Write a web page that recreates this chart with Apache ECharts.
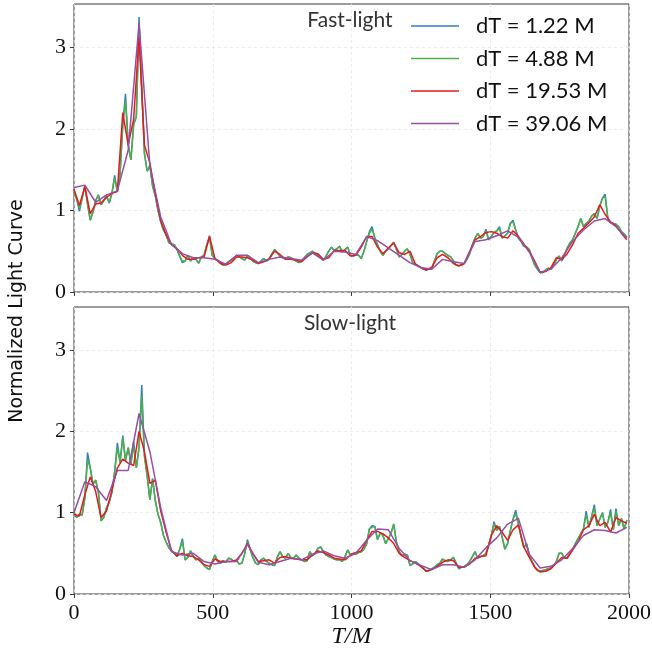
<!DOCTYPE html>
<html>
<head>
<meta charset="utf-8">
<script src="https://cdn.jsdelivr.net/npm/echarts@6/dist/echarts.min.js"></script>
<style>
  html, body { margin: 0; padding: 0; background: #fff; }
  #chart { width: 652px; height: 651px; }
</style>
</head>
<body>
<div id="chart"></div>
<script>
// Axis settings
const xTicks = [0, 500, 1000, 1500, 2000];
const yTicks = [0, 1, 2, 3];
const seriesNames = ['dT = 1.22 M', 'dT = 4.88 M', 'dT = 19.53 M', 'dT = 39.06 M'];
const seriesColors = ['#377eb8', '#4daf4a', '#e41a1c', '#984ea3'];

// Sampling steps (in M) of the stored light-curve arrays
const fineStep = 9.765625;
const midStep = 19.53125;
const coarseStep = 39.0625;

// ---- Fast-light light curves ----
const fastBlue = [
  1.22,1.14,0.99,1.15,1.30,1.08,0.88,0.98,1.12,1.19,
  1.07,1.12,1.18,1.09,1.21,1.43,1.23,1.45,2.05,2.43,
  1.80,1.62,2.05,2.15,3.37,2.50,1.70,1.48,1.55,1.30,
  1.18,1.00,0.86,0.76,0.70,0.61,0.59,0.58,0.52,0.44,
  0.36,0.38,0.45,0.38,0.42,0.40,0.35,0.43,0.45,0.58,
  0.69,0.45,0.41,0.39,0.36,0.33,0.34,0.37,0.39,0.42,
  0.45,0.43,0.41,0.39,0.45,0.42,0.38,0.36,0.35,0.38,
  0.41,0.38,0.40,0.46,0.52,0.48,0.44,0.42,0.41,0.43,
  0.42,0.40,0.38,0.36,0.38,0.42,0.46,0.48,0.50,0.47,
  0.45,0.42,0.39,0.44,0.50,0.55,0.51,0.53,0.56,0.49,
  0.52,0.55,0.45,0.44,0.46,0.45,0.41,0.50,0.62,0.74,
  0.80,0.66,0.58,0.50,0.45,0.50,0.53,0.57,0.61,0.52,
  0.43,0.46,0.50,0.53,0.46,0.36,0.34,0.32,0.30,0.28,
  0.27,0.28,0.29,0.38,0.47,0.50,0.50,0.47,0.45,0.43,
  0.38,0.33,0.32,0.33,0.35,0.40,0.47,0.58,0.66,0.72,
  0.66,0.68,0.77,0.64,0.68,0.73,0.75,0.80,0.66,0.69,
  0.72,0.84,0.88,0.76,0.66,0.62,0.56,0.55,0.52,0.42,
  0.33,0.28,0.24,0.24,0.27,0.29,0.28,0.33,0.40,0.44,
  0.38,0.45,0.54,0.60,0.64,0.72,0.80,0.90,0.80,0.84,
  0.87,0.93,0.96,0.90,1.05,1.15,1.20,0.90,0.85,0.84,
  0.83,0.80,0.74,0.71,0.67
];
const fastGreen = [
  1.22,1.14,1.03,1.15,1.30,1.08,0.88,0.98,1.12,1.19,
  1.07,1.12,1.18,1.09,1.21,1.40,1.23,1.45,2.05,2.35,
  1.80,1.62,2.05,2.15,3.28,2.50,1.70,1.48,1.55,1.30,
  1.18,1.00,0.86,0.76,0.70,0.60,0.59,0.58,0.52,0.44,
  0.38,0.38,0.45,0.38,0.42,0.40,0.36,0.43,0.45,0.58,
  0.66,0.45,0.41,0.39,0.36,0.33,0.34,0.37,0.39,0.42,
  0.45,0.43,0.41,0.39,0.45,0.42,0.38,0.36,0.35,0.38,
  0.41,0.38,0.40,0.46,0.52,0.48,0.44,0.42,0.41,0.43,
  0.42,0.40,0.38,0.36,0.38,0.42,0.46,0.48,0.50,0.47,
  0.45,0.42,0.39,0.44,0.50,0.55,0.51,0.53,0.56,0.49,
  0.52,0.55,0.45,0.44,0.46,0.45,0.41,0.50,0.62,0.72,
  0.77,0.66,0.58,0.50,0.45,0.50,0.53,0.57,0.61,0.52,
  0.43,0.46,0.50,0.53,0.46,0.36,0.34,0.32,0.30,0.28,
  0.27,0.28,0.29,0.38,0.47,0.50,0.50,0.47,0.45,0.43,
  0.38,0.33,0.32,0.33,0.35,0.40,0.47,0.58,0.66,0.72,
  0.66,0.68,0.75,0.64,0.68,0.73,0.75,0.78,0.66,0.69,
  0.72,0.84,0.86,0.76,0.66,0.62,0.56,0.55,0.52,0.42,
  0.33,0.28,0.24,0.24,0.27,0.29,0.28,0.33,0.40,0.44,
  0.38,0.45,0.54,0.60,0.64,0.72,0.80,0.90,0.80,0.84,
  0.87,0.93,0.96,0.90,1.05,1.15,1.17,0.90,0.85,0.84,
  0.83,0.80,0.74,0.71,0.67
];
const fastRed = [
  1.26,1.06,1.29,0.96,1.08,1.09,1.16,1.21,1.23,2.20,
  1.80,2.12,3.12,1.80,1.58,1.20,0.88,0.70,0.58,0.53,
  0.45,0.40,0.40,0.42,0.43,0.68,0.41,0.35,0.33,0.36,
  0.43,0.43,0.42,0.39,0.35,0.37,0.41,0.50,0.46,0.40,
  0.40,0.39,0.37,0.43,0.48,0.47,0.40,0.42,0.51,0.51,
  0.51,0.44,0.45,0.55,0.68,0.68,0.55,0.47,0.54,0.60,
  0.48,0.46,0.50,0.34,0.30,0.27,0.30,0.42,0.46,0.42,
  0.35,0.32,0.35,0.50,0.64,0.68,0.73,0.74,0.72,0.68,
  0.66,0.75,0.68,0.59,0.50,0.38,0.24,0.25,0.30,0.42,
  0.40,0.47,0.58,0.72,0.78,0.85,0.92,1.07,0.95,0.86,
  0.81,0.72,0.64
];
const fastPurple = [
  1.28,1.31,1.10,1.19,1.24,1.74,3.29,1.55,0.92,0.58,
  0.47,0.42,0.42,0.40,0.34,0.45,0.45,0.36,0.40,0.43,
  0.41,0.39,0.48,0.39,0.50,0.49,0.46,0.68,0.63,0.54,
  0.45,0.36,0.30,0.28,0.40,0.37,0.35,0.62,0.64,0.69,
  0.75,0.67,0.49,0.24,0.28,0.42,0.62,0.76,0.87,0.90,
  0.80,0.66
];

// ---- Slow-light light curves ----
const slowBlue = [
  1.00,0.94,0.98,0.97,1.18,1.74,1.55,1.35,1.40,1.25,
  0.90,0.94,1.06,1.13,1.25,1.50,1.86,1.62,1.95,1.64,
  1.80,1.60,1.88,1.55,1.80,2.57,1.70,1.45,1.16,1.42,
  1.15,0.98,0.88,0.72,0.64,0.57,0.53,0.50,0.46,0.55,
  0.68,0.42,0.45,0.53,0.46,0.42,0.44,0.40,0.35,0.32,
  0.30,0.40,0.48,0.40,0.38,0.41,0.39,0.44,0.43,0.40,
  0.41,0.37,0.38,0.50,0.67,0.55,0.45,0.38,0.36,0.42,
  0.44,0.40,0.38,0.36,0.35,0.45,0.52,0.46,0.44,0.50,
  0.45,0.44,0.48,0.44,0.42,0.40,0.41,0.52,0.47,0.50,
  0.56,0.58,0.52,0.48,0.46,0.45,0.43,0.42,0.42,0.40,
  0.46,0.54,0.48,0.50,0.49,0.51,0.52,0.55,0.62,0.80,
  0.84,0.83,0.67,0.75,0.72,0.62,0.68,0.75,0.86,0.63,
  0.52,0.47,0.49,0.48,0.35,0.37,0.40,0.37,0.34,0.31,
  0.28,0.29,0.31,0.33,0.36,0.38,0.43,0.41,0.40,0.42,
  0.45,0.38,0.31,0.33,0.34,0.36,0.40,0.46,0.52,0.44,
  0.46,0.47,0.50,0.60,0.72,0.89,0.78,0.83,0.70,0.55,
  0.62,0.78,0.92,1.03,0.86,0.70,0.57,0.62,0.48,0.40,
  0.33,0.29,0.28,0.29,0.30,0.31,0.32,0.35,0.40,0.50,
  0.50,0.44,0.45,0.50,0.55,0.62,0.68,0.74,0.80,1.02,
  0.82,0.95,1.10,0.84,0.92,1.00,0.82,0.88,1.04,0.79,
  1.05,0.84,0.93,0.80,0.91
];
const slowGreen = [
  1.00,0.94,0.98,0.97,1.18,1.65,1.55,1.35,1.40,1.25,
  0.90,0.94,1.06,1.13,1.25,1.50,1.80,1.62,1.92,1.64,
  1.80,1.60,1.82,1.55,1.80,2.43,1.70,1.45,1.16,1.42,
  1.15,0.98,0.88,0.72,0.64,0.57,0.53,0.50,0.46,0.55,
  0.65,0.42,0.45,0.53,0.46,0.42,0.44,0.40,0.35,0.32,
  0.30,0.40,0.48,0.40,0.38,0.41,0.39,0.44,0.43,0.40,
  0.41,0.37,0.38,0.50,0.64,0.55,0.45,0.38,0.36,0.42,
  0.44,0.40,0.38,0.36,0.35,0.45,0.52,0.46,0.44,0.50,
  0.45,0.44,0.48,0.44,0.42,0.40,0.41,0.52,0.47,0.50,
  0.56,0.58,0.52,0.48,0.46,0.45,0.43,0.42,0.42,0.40,
  0.46,0.54,0.48,0.50,0.49,0.51,0.52,0.55,0.62,0.80,
  0.82,0.83,0.67,0.75,0.72,0.62,0.68,0.75,0.86,0.63,
  0.52,0.47,0.49,0.48,0.35,0.37,0.40,0.37,0.34,0.31,
  0.28,0.29,0.31,0.33,0.36,0.38,0.43,0.41,0.40,0.42,
  0.45,0.38,0.31,0.33,0.34,0.36,0.40,0.46,0.52,0.44,
  0.46,0.47,0.50,0.60,0.72,0.86,0.78,0.83,0.70,0.55,
  0.62,0.78,0.92,0.99,0.86,0.70,0.57,0.62,0.48,0.40,
  0.33,0.29,0.28,0.29,0.30,0.31,0.32,0.35,0.40,0.50,
  0.50,0.44,0.45,0.50,0.55,0.62,0.68,0.74,0.80,0.98,
  0.82,0.95,1.06,0.84,0.92,1.00,0.82,0.88,1.00,0.79,
  1.02,0.84,0.93,0.80,0.91
];
const slowRed = [
  0.98,0.96,1.22,1.44,1.26,0.94,1.02,1.28,1.55,1.66,
  1.61,1.58,2.00,1.75,1.36,1.40,1.02,0.76,0.53,0.47,
  0.50,0.47,0.46,0.42,0.36,0.34,0.43,0.40,0.40,0.40,
  0.42,0.50,0.62,0.50,0.40,0.41,0.42,0.38,0.45,0.46,
  0.44,0.43,0.42,0.42,0.48,0.53,0.51,0.48,0.44,0.43,
  0.42,0.48,0.51,0.53,0.66,0.77,0.77,0.74,0.69,0.62,
  0.50,0.45,0.41,0.38,0.34,0.28,0.30,0.34,0.39,0.42,
  0.41,0.33,0.33,0.37,0.44,0.46,0.47,0.72,0.84,0.76,
  0.66,0.79,0.85,0.58,0.45,0.33,0.27,0.28,0.31,0.38,
  0.45,0.44,0.54,0.64,0.79,0.84,0.98,0.84,0.88,0.76,
  0.94,0.90,0.87
];
const slowPurple = [
  1.00,1.38,1.32,1.15,1.52,1.52,2.22,1.75,1.06,0.52,
  0.48,0.50,0.40,0.37,0.40,0.40,0.61,0.39,0.36,0.40,
  0.44,0.42,0.49,0.53,0.47,0.44,0.50,0.66,0.80,0.79,
  0.56,0.41,0.35,0.30,0.36,0.36,0.33,0.42,0.57,0.69,
  0.86,0.93,0.49,0.32,0.34,0.42,0.56,0.72,0.79,0.78,
  0.75,0.82
];

// Build [T, value] pairs from an evenly sampled array
function toPairs(values, step) {
  return values.map((v, i) => [i * step, v]);
}

const panels = [
  { label: 'Fast-light', curves: [fastBlue, fastGreen, fastRed, fastPurple] },
  { label: 'Slow-light', curves: [slowBlue, slowGreen, slowRed, slowPurple] }
];
const steps = [fineStep, fineStep, midStep, coarseStep];

const gridLine = { show: true, lineStyle: { color: '#e6e6e6', width: 0.8, type: [3, 3] } };
const tickFont = { fontFamily: 'Liberation Serif', fontSize: 22, color: '#111' };

const grids = [
  { left: 74, top: 4, width: 555, height: 288 },
  { left: 74, top: 307, width: 555, height: 287 }
].map(g => Object.assign(g, {
  show: true, borderColor: '#3a3a3a', borderWidth: 1, backgroundColor: 'transparent',
  containLabel: false, outerBoundsMode: 'none'
}));

const xAxes = grids.map((g, gi) => ({
  type: 'value', gridIndex: gi, min: 0, max: 2000, interval: 500,
  axisLine: { show: false },
  axisTick: { show: true, inside: false, length: 4, customValues: xTicks, lineStyle: { color: '#3a3a3a' } },
  axisLabel: Object.assign({
    show: gi === 1, margin: 8, customValues: xTicks,
    formatter: v => String(v)
  }, tickFont),
  splitLine: gridLine,
  name: gi === 1 ? 'T/M' : '',
  nameLocation: 'middle', nameGap: 30,
  nameTextStyle: { fontFamily: 'Liberation Serif', fontStyle: 'italic', fontSize: 24, color: '#111' }
}));

const yAxes = grids.map((g, gi) => ({
  type: 'value', gridIndex: gi, min: 0, max: 3.53, interval: 1,
  axisLine: { show: false },
  axisTick: { show: true, inside: false, length: 4, customValues: yTicks, lineStyle: { color: '#3a3a3a' } },
  axisLabel: Object.assign({
    margin: 8, customValues: yTicks,
    formatter: v => (yTicks.indexOf(v) >= 0 ? String(v) : '')
  }, tickFont),
  splitLine: gridLine
}));

const series = [];
panels.forEach((p, pi) => {
  p.curves.forEach((vals, ci) => {
    series.push({
      type: 'line', name: seriesNames[ci],
      xAxisIndex: pi, yAxisIndex: pi,
      data: toPairs(vals, steps[ci]),
      showSymbol: false, symbol: 'none',
      lineStyle: { color: seriesColors[ci], width: 1.5 },
      itemStyle: { color: seriesColors[ci] },
      clip: true, animation: false
    });
  });
});

const chart = echarts.init(document.getElementById('chart'), null, { renderer: 'canvas' });
chart.setOption({
  animation: false,
  backgroundColor: '#fff',
  grid: grids,
  xAxis: xAxes,
  yAxis: yAxes,
  legend: {
    data: seriesNames.map(n => ({ name: n, icon: 'rect' })),
    orient: 'vertical', left: 411, top: 15, padding: 0,
    itemWidth: 48, itemHeight: 1.6, itemGap: 10.5,
    textStyle: { fontFamily: 'Lato', fontSize: 22, lineHeight: 22, color: '#111', padding: [0, 0, 0, 12] },
    selectedMode: false
  },
  graphic: [
    { type: 'text', x: 350, y: 20, style: { text: panels[0].label, fontFamily: 'Lato', fontSize: 21, fill: '#333', align: 'center', verticalAlign: 'middle' } },
    { type: 'text', x: 350, y: 323, style: { text: panels[1].label, fontFamily: 'Lato', fontSize: 21, fill: '#333', align: 'center', verticalAlign: 'middle' } },
    { type: 'text', x: 17, y: 311, rotation: Math.PI / 2, style: { text: 'Normalized Light Curve', fontFamily: 'DejaVu Sans', fontSize: 19, fill: '#111', align: 'center', verticalAlign: 'middle' } }
  ],
  series: series
});
</script>
</body>
</html>
